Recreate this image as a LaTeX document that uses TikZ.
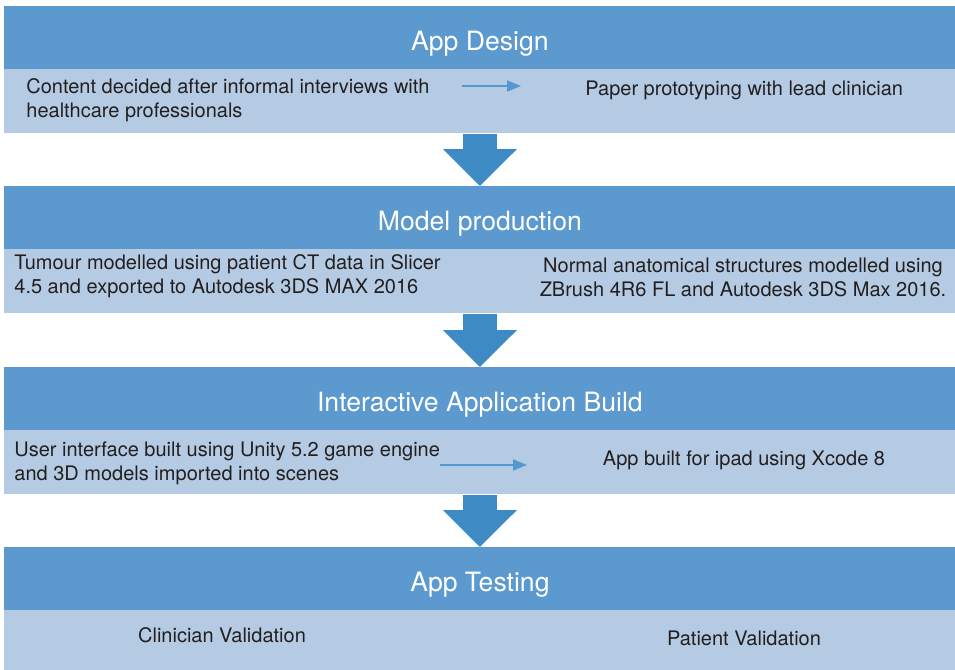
\documentclass[tikz,border=0pt]{standalone}
\usepackage{fontspec}
\setmainfont{TeX Gyre Heros}
\usetikzlibrary{arrows.meta}

\definecolor{headblue}{RGB}{91,153,206}
\definecolor{subblue}{RGB}{180,203,227}
\definecolor{stageblue}{RGB}{62,138,197}
\definecolor{linkblue}{RGB}{84,152,208}
\definecolor{textgray}{RGB}{35,31,32}

\tikzset{
    header/.style = {fill = headblue, text = white, font = {\fontsize{13.3}{16}\selectfont},
        text height = 12.5pt, text depth = 0pt,
        minimum width = 475.5pt, minimum height = 31.5pt, inner sep = 0pt, anchor = north west},
    subband/.style = {fill = subblue, minimum width = 475.5pt, minimum height = 32pt,
        inner sep = 0pt, anchor = north west},
    body/.style = {font = {\fontsize{10}{12}\selectfont}, text = textgray, inner sep = 0pt},
    stagearrow/.style = {draw = stageblue, line width = 17pt,
        -{Triangle[width = 36pt, length = 18.5pt]}},
    linkarrow/.style = {draw = linkblue, line width = 1pt,
        -{Triangle[width = 5.5pt, length = 7pt]}}
}

\begin{document}
\begin{tikzpicture}[x = 0.5pt, y = -0.5pt]
        \useasboundingbox (0, 0) rectangle (955, 670);

        % bands
        \node[header] (head1) at (4, 6) {App Design};
        \node[subband] (sub1) at (4, 69) {};
        \node[header] (head2) at (4, 186) {Model production};
        \node[subband] (sub2) at (4, 249) {};
        \node[header] (head3) at (4, 367) {Interactive Application Build};
        \node[subband] (sub3) at (4, 430) {};
        \node[header] (head4) at (4, 547) {App Testing};
        \node[subband, minimum height = 30pt] (sub4) at (4, 610) {};

        % texts
        \node[body, align = left, anchor = west] (content) at (26, 100)
            {Content decided after informal interviews with\\healthcare professionals};
        \node[body, anchor = west] (paper) at (585, 90) {Paper prototyping with lead clinician};
        \node[body, align = left, anchor = west] (tumour) at (14, 276)
            {Tumour modelled using patient CT data in Slicer\\4.5 and exported to Autodesk 3DS MAX 2016};
        \node[body, align = center] (normal) at (743, 277)
            {Normal anatomical structures modelled using\\ZBrush 4R6 FL and Autodesk 3DS Max 2016.};
        \node[body, align = left, anchor = west] (unity) at (14, 463)
            {User interface built using Unity 5.2 game engine\\and 3D models imported into scenes};
        \node[body] (xcode) at (744, 460) {App built for ipad using Xcode 8};
        \node[body] (clinician) at (222, 635) {Clinician Validation};
        \node[body] (patient) at (744, 638) {Patient Validation};

        % small arrows
        \coordinate (l1a) at (462, 86);
        \coordinate (l1b) at (521, 86);
        \coordinate (l3a) at (440, 465);
        \coordinate (l3b) at (527, 465);
        \draw[linkarrow] (l1a) -- (l1b);
        \draw[linkarrow] (l3a) -- (l3b);

        % stage arrows
        \draw[stagearrow, xshift = 1.75pt] (sub1.south) -- (head2.north);
        \draw[stagearrow, xshift = 1.75pt] (sub2.south) -- (head3.north);
        \draw[stagearrow, xshift = 1.75pt] (sub3.south) -- (head4.north);
    \end{tikzpicture}
\end{document}
